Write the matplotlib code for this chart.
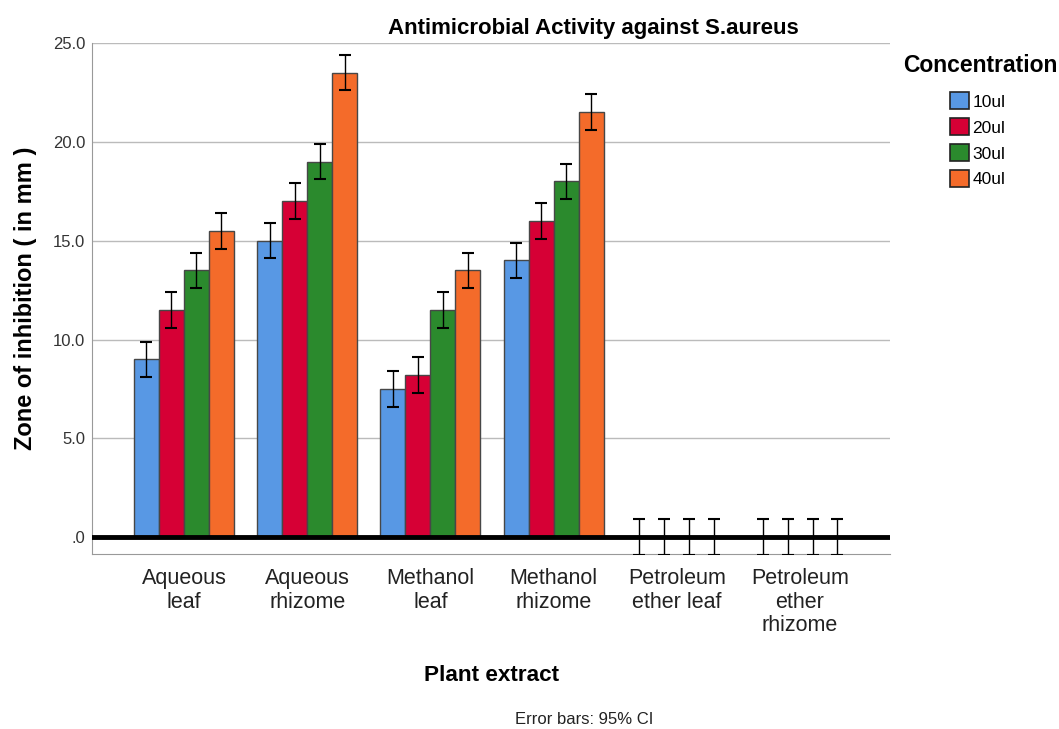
import matplotlib
matplotlib.use("Agg")
import matplotlib.pyplot as plt
import numpy as np

plt.rcParams['font.family'] = ['Liberation Sans', 'DejaVu Sans']

categories = ["Aqueous\nleaf", "Aqueous\nrhizome", "Methanol\nleaf", "Methanol\nrhizome",
              "Petroleum\nether leaf", "Petroleum\nether\nrhizome"]
series_names = ["10ul", "20ul", "30ul", "40ul"]
values = {
    "10ul": [9.0, 15.0, 7.5, 14.0, 0.0, 0.0],
    "20ul": [11.5, 17.0, 8.2, 16.0, 0.0, 0.0],
    "30ul": [13.5, 19.0, 11.5, 18.0, 0.0, 0.0],
    "40ul": [15.5, 23.5, 13.5, 21.5, 0.0, 0.0],
}
ci_half = {
    "10ul": [0.9, 0.9, 0.9, 0.9, 0.9, 0.9],
    "20ul": [0.9, 0.9, 0.9, 0.9, 0.9, 0.9],
    "30ul": [0.9, 0.9, 0.9, 0.9, 0.9, 0.9],
    "40ul": [0.9, 0.9, 0.9, 0.9, 0.9, 0.9],
}
yticks = [0, 5, 10, 15, 20, 25]
ytick_labels = [".0", "5.0", "10.0", "15.0", "20.0", "25.0"]
colors = ["#5898e4", "#d60035", "#2b8a2d", "#f46b2a"]

fig = plt.figure(figsize=(10.59, 7.29), dpi=100)
ax = fig.add_axes([0.0869, 0.240, 0.7535, 0.701])

x = np.arange(len(categories))
bw = 0.2027
for i, name in enumerate(series_names):
    pos = x + (i - 1.5) * bw
    ax.bar(pos, values[name], width=bw, color=colors[i], edgecolor="#474747",
           linewidth=1.0, label=name, zorder=2)
    ax.errorbar(pos, values[name], yerr=ci_half[name], fmt="none", ecolor="black",
                elinewidth=1.0, capsize=4, capthick=1.5, zorder=3)

ax.axhline(0, color="black", lw=3.5, zorder=4)
ax.set_ylim(-0.85, 25)
ax.set_xlim(-0.746, 5.73)
ax.set_yticks(yticks)
ax.set_yticklabels(ytick_labels, fontsize=12, color="#333333")
ax.set_xticks(x)
ax.set_xticklabels(categories, fontsize=15.5, color="#222222", linespacing=1.17)
ax.tick_params(axis="x", length=0, pad=10)
ax.tick_params(axis="y", length=0, pad=5)
ax.yaxis.grid(True, color="#bbbbbb", lw=1.0, zorder=0)
ax.set_axisbelow(True)
for s in ["top", "right"]:
    ax.spines[s].set_visible(False)
ax.spines["left"].set_color("#999999")
ax.spines["bottom"].set_color("#999999")

fig.text(0.560, 0.961, "Antimicrobial Activity against S.aureus", fontsize=16,
         fontweight="bold", ha="center", va="center")
ax.set_ylabel("Zone of inhibition ( in mm )", fontsize=17, fontweight="bold")
ax.yaxis.set_label_coords(-0.069, 0.50)
fig.text(0.4646, 0.074, "Plant extract", fontsize=16.2, fontweight="bold", ha="center", va="center")

fig.text(980 / 1059, 1 - 66 / 729, "Concentration", fontsize=16.5, fontweight="bold",
         ha="center", va="center")
leg = fig.legend(loc="upper left", bbox_to_anchor=(950 / 1059, 1 - 92.5 / 729), frameon=False,
                 fontsize=12.5, handlelength=1.1, handleheight=1.1, borderpad=0,
                 handletextpad=0.2, labelspacing=0.50, borderaxespad=0)
for p in leg.get_patches():
    p.set_edgecolor("#222222")
    p.set_linewidth(1.2)

fig.text(0.5515, 0.0124, "Error bars: 95% CI", fontsize=12, ha="center", va="center", color="#222222")

fig.savefig("out.png", dpi=100)
